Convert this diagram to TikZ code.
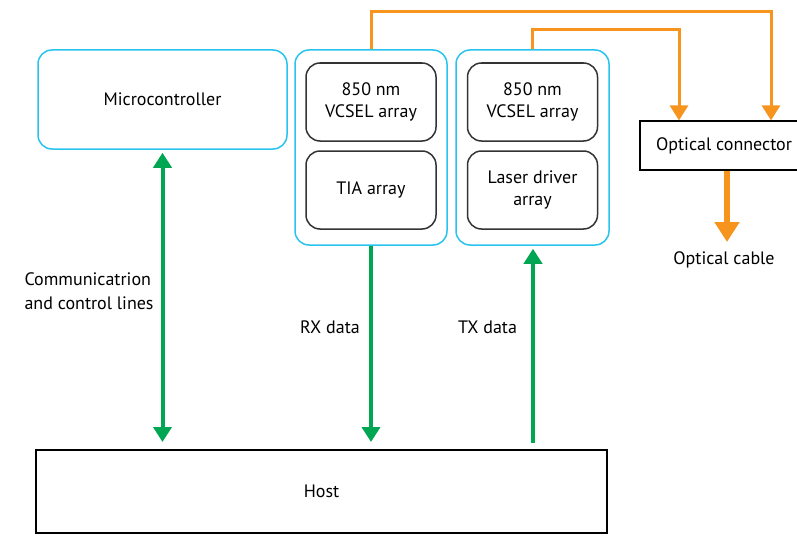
\documentclass[tikz,border=0pt]{standalone}
\usepackage{fontspec}
\setmainfont{PT Sans}
\usetikzlibrary{positioning,arrows.meta}

\definecolor{mcyan}{HTML}{29C3F0}
\definecolor{mgreen}{HTML}{00A651}
\definecolor{morange}{HTML}{F7941D}

\tikzset{
  module/.style={draw=mcyan, line width=1.5pt, rounded corners=14pt},
  block/.style={draw=black!80, line width=1.5pt, rounded corners=14pt, align=center,
    minimum width=130pt, minimum height=78pt},
  plainbox/.style={draw=black, line width=1.2pt},
  gline/.style={draw=mgreen, line width=4pt},
  oline/.style={draw=morange, line width=3pt},
  gtip/.tip={Triangle[width=18pt,length=15pt]},
  otip/.tip={Triangle[width=18pt,length=15pt]},
  bigtip/.tip={Triangle[width=24pt,length=20pt]},
}

\begin{document}
\begin{tikzpicture}[x=1pt, y=-1pt, font=\fontsize{18}{22}\selectfont]
\useasboundingbox (0,0) rectangle (797,535);

\def\xrx{371}
\def\xtx{532.5}
\def\yup{102}
\def\ylow{190}

% cyan modules
\node[module, minimum width=249pt, minimum height=99pt] (micro) at (162.5,99.5) {Microcontroller};
\node[module, minimum width=152pt, minimum height=195pt] (rxmod) at (\xrx,147.5) {};
\node[module, minimum width=153pt, minimum height=195pt] (txmod) at (\xtx,147.5) {};

% inner blocks
\node[block] (rxvcsel) at (\xrx,\yup) {850 nm\\VCSEL array};
\node[block] (tia) at (\xrx,\ylow) {TIA array};
\node[block] (txvcsel) at (\xtx,\yup) {850 nm\\VCSEL array};
\node[block] (driver) at (\xtx,\ylow) {Laser driver\\array};

% plain boxes
\node[plainbox, minimum width=170pt, minimum height=49pt] (conn) at (725,145.5) {};
\node at (724,145.5) {Optical connector};
\node[plainbox, minimum width=571pt, minimum height=83pt] (host) at (321.5,491.5) {Host};

% labels
\node[align=left, anchor=west, font=\fontsize{18}{24}\selectfont] (comm) at (21,291) {Communicatrion\\and control lines};
\node (rxlbl) at (330,327) {RX data};
\node (txlbl) at (487.5,327) {TX data};
\node (cable) at (724,260) {Optical cable};

% green data lines
\coordinate (mbot) at ([yshift=-3pt]micro.south);
\coordinate (rxend) at (\xrx,442);
\coordinate (txbot) at (533,443);
\draw[gline, {gtip}-{gtip}] (mbot) -- (mbot |- rxend);
\draw[gline, -{gtip}] (rxmod.south) -- (rxend);
\draw[gline, -{gtip}] (txbot) -- ([yshift=-3pt]txbot |- txmod.south);

% orange fibres
\coordinate (ta) at (771,12);
\coordinate (tb) at (679,29.5);
\draw[oline, -{otip}] (rxmod.north) |- (ta) -- (ta |- conn.north);
\draw[oline, -{otip}] (txmod.north) |- (tb) -- (tb |- conn.north);
\coordinate (cb) at (727,242);
\draw[draw=morange, line width=6pt, -{bigtip}] (cb |- conn.south) -- (cb);

\end{tikzpicture}
\end{document}
